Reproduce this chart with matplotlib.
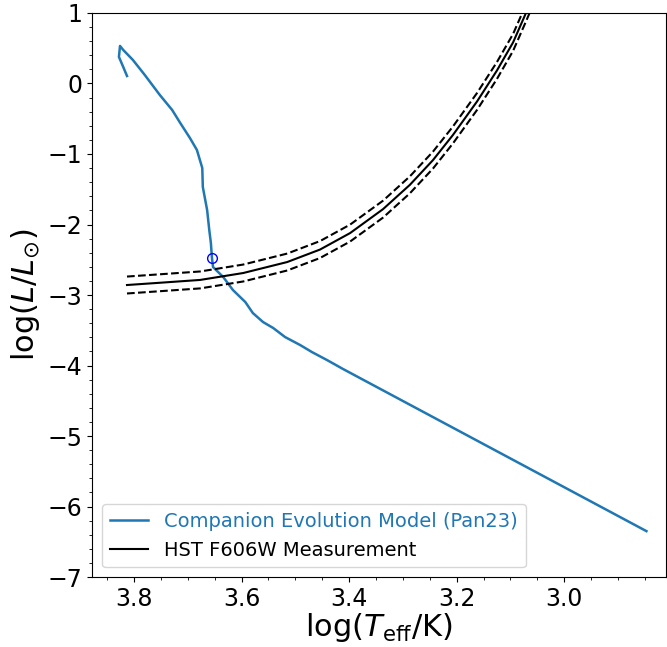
import matplotlib
matplotlib.use("Agg")
import matplotlib.pyplot as plt
from matplotlib.ticker import MultipleLocator
import numpy as np

# companion evolution track (log Teff, log L)
track_logT = [3.813, 3.820, 3.828, 3.826, 3.820, 3.802, 3.780, 3.752, 3.729, 3.714,
              3.696, 3.683, 3.673, 3.672, 3.664, 3.660, 3.657, 3.655, 3.653, 3.634,
              3.616, 3.593, 3.579, 3.560, 3.541, 3.519, 3.491, 3.469, 3.441, 3.411,
              2.847]
track_logL = [0.106, 0.234, 0.376, 0.532, 0.475, 0.333, 0.121, -0.163, -0.376, -0.560,
              -0.773, -0.943, -1.199, -1.468, -1.794, -2.078, -2.262, -2.475, -2.603, -2.745,
              -2.929, -3.099, -3.255, -3.383, -3.468, -3.596, -3.709, -3.809, -3.922, -4.050,
              -6.348]

# point on the track matching the measurement
match_logT = 3.655
match_logL = -2.475

# HST F606W constraint
hst_logT = [3.813, 3.752, 3.677, 3.597, 3.515, 3.454, 3.398, 3.337, 3.287, 3.244,
            3.207, 3.162, 3.125, 3.095, 3.071, 3.057]
hst_logL = [-2.858, -2.826, -2.786, -2.688, -2.532, -2.355, -2.121, -1.783, -1.438, -1.087,
            -0.732, -0.255, 0.184, 0.582, 1.000, 1.250]
hst_err = 0.12

fig = plt.figure(figsize=(6.67, 6.47), dpi=100)
ax = fig.add_axes([0.138, 0.108, 0.861, 0.872])

ax.plot(track_logT, track_logL, color='tab:blue', lw=1.8, label='Companion Evolution Model (Pan23)')
ax.plot(match_logT, match_logL, 'o', mfc='none', mec='b', ms=7)

hl = np.array(hst_logL)
ax.plot(hst_logT, hl, color='k', lw=1.5, label='HST F606W Measurement')
ax.plot(hst_logT, hl + hst_err, color='k', lw=1.5, ls='--')
ax.plot(hst_logT, hl - hst_err, color='k', lw=1.5, ls='--')

ax.set_xlim(3.878, 2.81)
ax.set_ylim(-7, 1)
ax.xaxis.set_major_locator(MultipleLocator(0.2))
ax.xaxis.set_minor_locator(MultipleLocator(0.05))
ax.yaxis.set_major_locator(MultipleLocator(1))
ax.yaxis.set_minor_locator(MultipleLocator(0.2))
ax.tick_params(labelsize=17)

ax.set_xlabel(r'$\log(T_{\rm eff}/{\rm K})$', fontsize=22, labelpad=0)
ax.set_ylabel(r'$\log(L/L_{\odot})$', fontsize=22)

ax.legend(loc='lower left', fontsize=14, labelcolor='linecolor')

fig.savefig('out.png', dpi=100)
